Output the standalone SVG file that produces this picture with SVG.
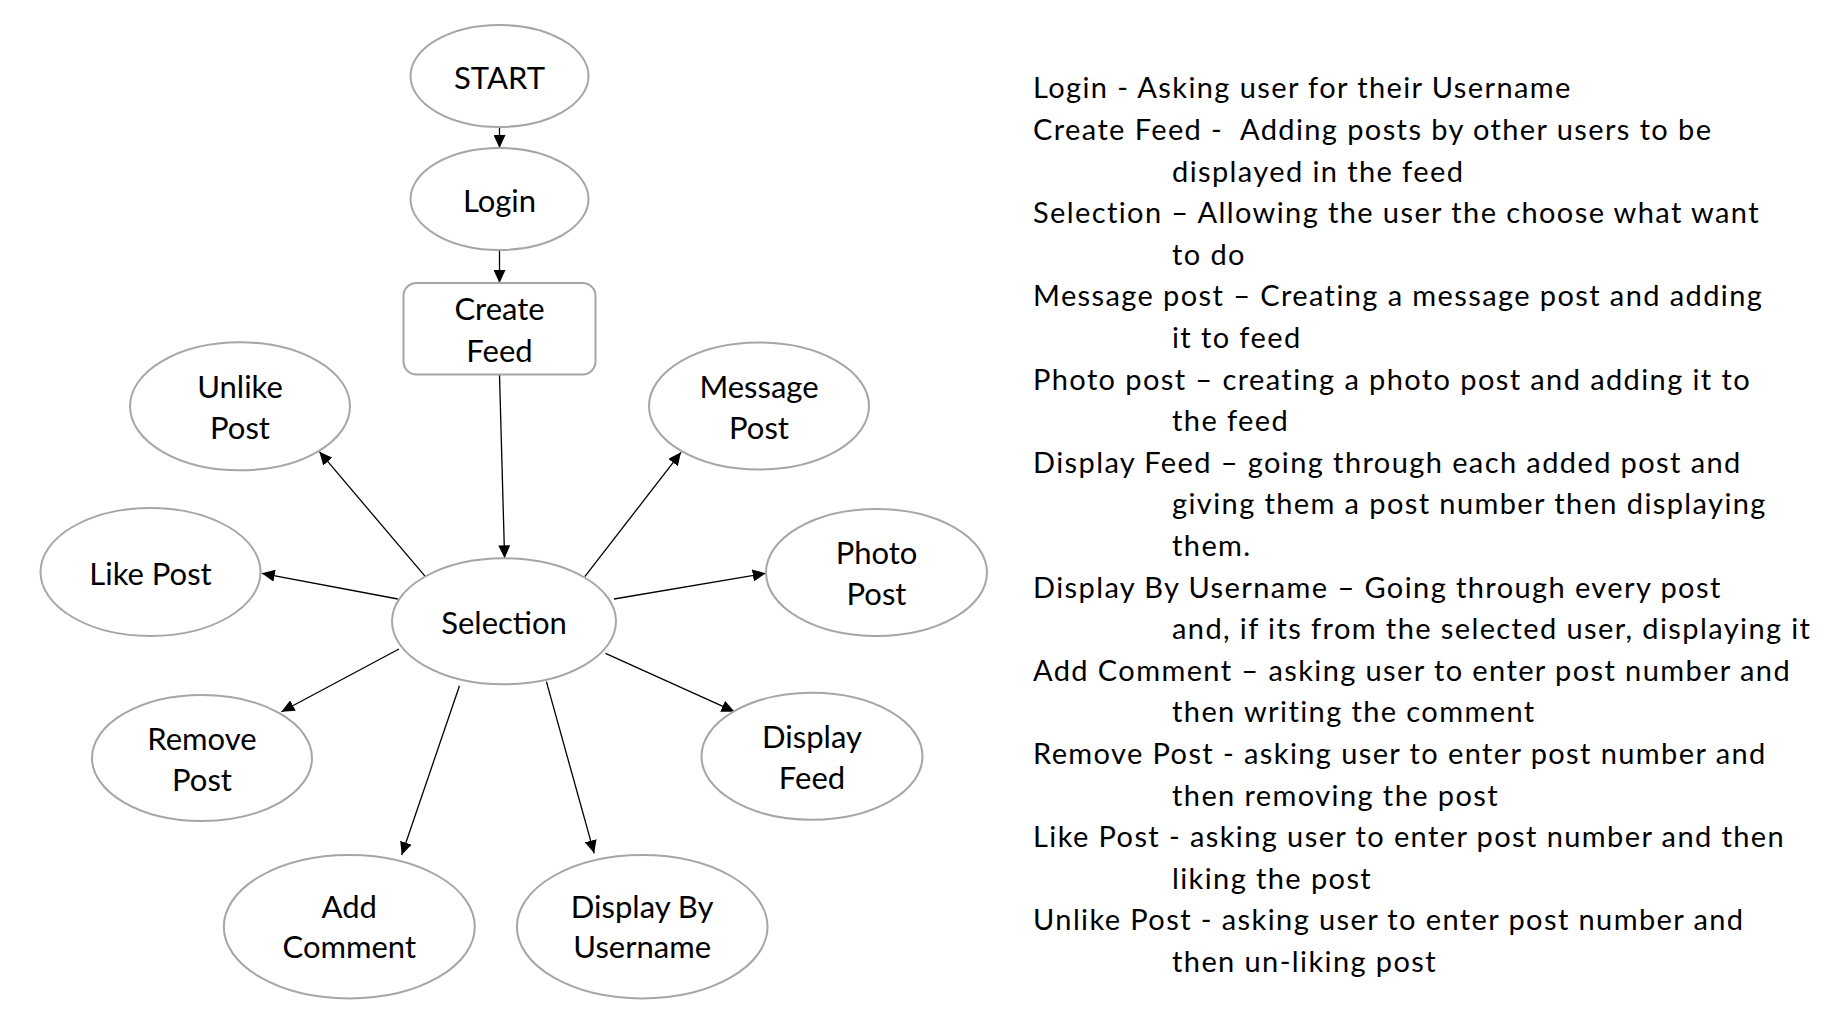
<svg xmlns="http://www.w3.org/2000/svg" width="1836" height="1030" viewBox="0 0 1836 1030">
<style>
.n{fill:#fff;stroke:#a6a6a6;stroke-width:2}
.t{font-family:Lato,"Liberation Sans",sans-serif;font-size:31px;fill:#000;text-anchor:middle}
.e{stroke:#000;stroke-width:1.3;fill:none;marker-end:url(#ah)}
.d{font-family:Lato,"Liberation Sans",sans-serif;font-size:29px;letter-spacing:1.4px;fill:#000}
</style>
<defs>
<marker id="ah" markerUnits="userSpaceOnUse" markerWidth="14" markerHeight="12" refX="13" refY="6" orient="auto">
<path d="M0,0 L13,6 L0,12 Z" fill="#000"/>
</marker>
</defs>
<rect width="1836" height="1030" fill="#fff"/>
<g id="connectors">
<line class="e" x1="499.5" y1="127" x2="499.5" y2="148"/>
<line class="e" x1="499.5" y1="250" x2="499.5" y2="283"/>
<line class="e" x1="499.5" y1="374.5" x2="504.6" y2="558.3"/>
<line class="e" x1="425.4" y1="576.7" x2="319.4" y2="451.7"/>
<line class="e" x1="584.8" y1="576.7" x2="681" y2="452.3"/>
<line class="e" x1="397.9" y1="599" x2="261.8" y2="573.3"/>
<line class="e" x1="614" y1="599" x2="765.7" y2="573.3"/>
<line class="e" x1="399" y1="649" x2="281.5" y2="711.7"/>
<line class="e" x1="605.5" y1="653.3" x2="734.5" y2="711.7"/>
<line class="e" x1="459.5" y1="685.7" x2="401.7" y2="855"/>
<line class="e" x1="546.4" y1="681.7" x2="594.2" y2="853.3"/>
</g>
<g id="start"><ellipse class="n" cx="499.5" cy="76" rx="89" ry="51"/><text class="t" x="499.5" y="88.5">START</text></g>
<g id="login"><ellipse class="n" cx="499.5" cy="199" rx="89" ry="51"/><text class="t" x="499.5" y="211.5">Login</text></g>
<g id="create-feed"><rect class="n" x="403.5" y="283" width="192" height="91.5" rx="13"/><text class="t" x="499.5" y="320">Create</text><text class="t" x="499.5" y="361.5">Feed</text></g>
<g id="unlike-post"><ellipse class="n" cx="240" cy="406.3" rx="110" ry="64"/><text class="t" x="240" y="398">Unlike</text><text class="t" x="240" y="439">Post</text></g>
<g id="message-post"><ellipse class="n" cx="759" cy="406" rx="110" ry="63.5"/><text class="t" x="759" y="398">Message</text><text class="t" x="759" y="439">Post</text></g>
<g id="like-post"><ellipse class="n" cx="150.5" cy="572" rx="110" ry="64"/><text class="t" x="150.5" y="585">Like Post</text></g>
<g id="photo-post"><ellipse class="n" cx="876.5" cy="572.5" rx="110.5" ry="63.5"/><text class="t" x="876.5" y="564">Photo</text><text class="t" x="876.5" y="605">Post</text></g>
<g id="selection"><ellipse class="n" cx="504" cy="621.3" rx="112" ry="63"/><text class="t" x="504" y="634">Selection</text></g>
<g id="remove-post"><ellipse class="n" cx="202" cy="758" rx="110" ry="63"/><text class="t" x="202" y="750">Remove</text><text class="t" x="202" y="791">Post</text></g>
<g id="display-feed"><ellipse class="n" cx="812" cy="756.3" rx="110.5" ry="63.5"/><text class="t" x="812" y="748">Display</text><text class="t" x="812" y="789">Feed</text></g>
<g id="add-comment"><ellipse class="n" cx="349.3" cy="926.7" rx="125.5" ry="71.7"/><text class="t" x="349.3" y="917.7">Add</text><text class="t" x="349.3" y="958.3">Comment</text></g>
<g id="display-by-username"><ellipse class="n" cx="642.2" cy="926.7" rx="125.3" ry="71.7"/><text class="t" x="642.2" y="917.7">Display By</text><text class="t" x="642.2" y="958.3">Username</text></g>
<g id="descriptions" class="d">
<text x="1033" y="98.3">Login - Asking user for their Username</text>
<text x="1033" y="139.9" xml:space="preserve">Create Feed -  Adding posts by other users to be</text>
<text x="1172" y="181.5">displayed in the feed</text>
<text x="1033" y="223.1">Selection – Allowing the user the choose what want</text>
<text x="1172" y="264.7">to do</text>
<text x="1033" y="306.3">Message post – Creating a message post and adding</text>
<text x="1172" y="347.9">it to feed</text>
<text x="1033" y="389.5">Photo post – creating a photo post and adding it to</text>
<text x="1172" y="431.1">the feed</text>
<text x="1033" y="472.7">Display Feed – going through each added post and</text>
<text x="1172" y="514.3">giving them a post number then displaying</text>
<text x="1172" y="555.9">them.</text>
<text x="1033" y="597.5">Display By Username – Going through every post</text>
<text x="1172" y="639.1">and, if its from the selected user, displaying it</text>
<text x="1033" y="680.7">Add Comment – asking user to enter post number and</text>
<text x="1172" y="722.3">then writing the comment</text>
<text x="1033" y="763.9">Remove Post - asking user to enter post number and</text>
<text x="1172" y="805.5">then removing the post</text>
<text x="1033" y="847.1">Like Post - asking user to enter post number and then</text>
<text x="1172" y="888.7">liking the post</text>
<text x="1033" y="930.3">Unlike Post - asking user to enter post number and</text>
<text x="1172" y="971.9">then un-liking post</text>
</g>
</svg>
